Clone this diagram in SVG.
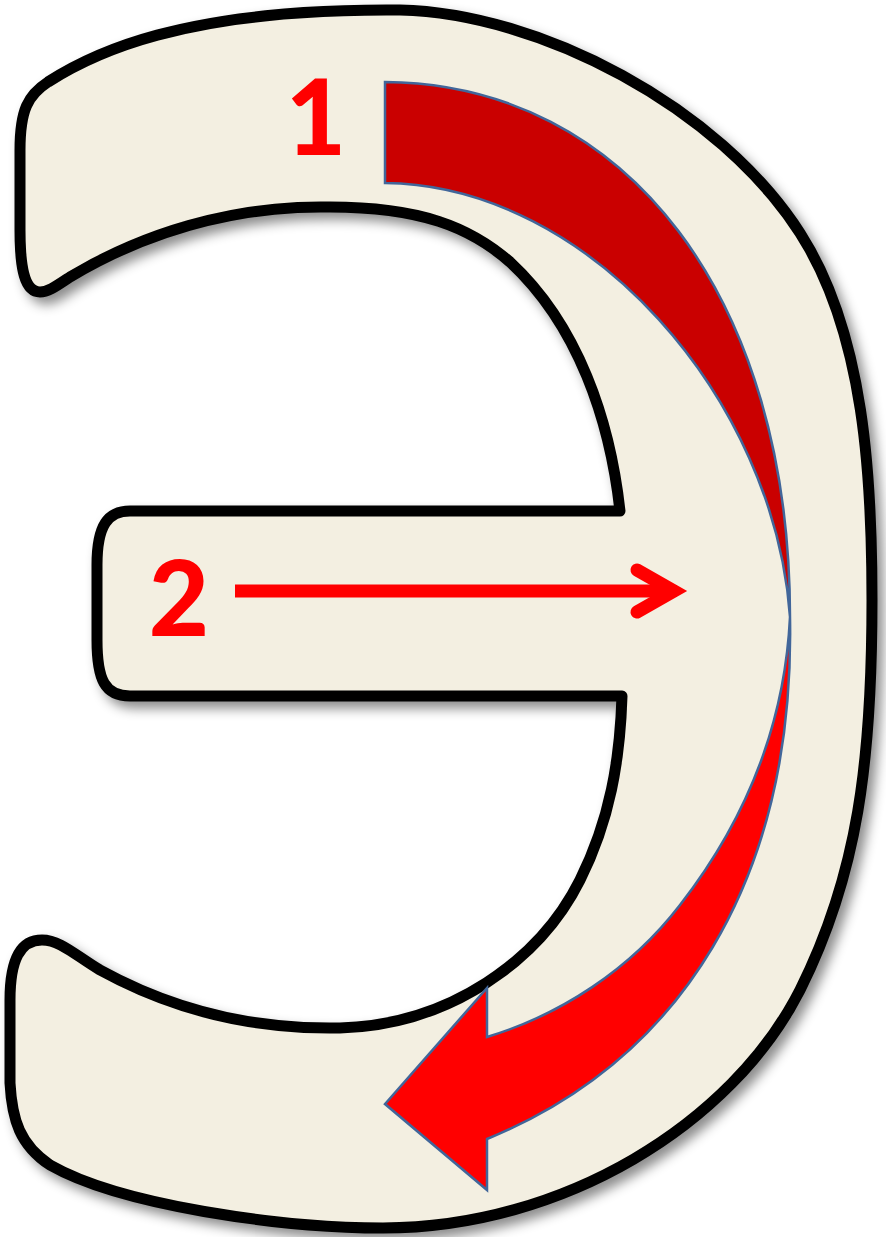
<svg xmlns="http://www.w3.org/2000/svg" width="886" height="1237" viewBox="0 0 886 1237">
<defs>
<filter id="sh" x="-10%" y="-10%" width="130%" height="130%">
<feDropShadow dx="6" dy="7" stdDeviation="6" flood-color="#000" flood-opacity="0.45"/>
</filter>
</defs>
<style>
.letter{fill:#F3EFE1;stroke:#000;stroke-width:11;stroke-linejoin:round}
.arc{stroke:#41669A;stroke-width:2.5;stroke-linejoin:miter}
.num{font-family:Lato,"Open Sans",sans-serif;font-weight:900;font-size:104px;fill:#FF0000;text-anchor:middle}
</style>
<rect width="886" height="1237" fill="#fff"/>
<g id="letter">
<path class="letter" filter="url(#sh)" d="M48,82 C90,55 180,8 400,10 C540,13 719,107 800,233 C865,334 872,480 872,600 C872,760 858,874 800,990 C732,1124 563,1228 383,1228 C280,1228 120,1205 50,1165 C20,1145 12,1120 10,1083 L10,1000 C10,960 20,940 42,940 C60,940 75,955 100,970 C160,1003 240,1030 340,1028 C450,1025 540,960 580,880 C610,820 620,760 622,696 L130,696 C105,696 97,680 97,640 L97,565 C97,525 108,511 130,511 L620,511 C610,420 578,325 510,262 C470,227 420,207 330,207 C230,205 140,235 70,277 C55,287 48,292 40,292 C25,292 20,270 20,230 L20,150 C20,110 28,95 48,82 Z"/>
</g>
<g id="arrow1">
<path class="arc" fill="#CA0000" d="M385,82 C628,84 790,300 790,617 C775,400 590,185 385,183 Z"/>
<text class="num" x="316" y="155">1</text>
</g>
<g id="arrow1b">
<path class="arc" fill="#FF0000" d="M790,617 C795,880 680,1060 487,1139 L487,1190 L385,1104 L487,988 L487,1037 C560,1015 630,970 680,905 C750,815 785,720 790,617 Z"/>
</g>
<g id="arrow2">
<line x1="235" y1="591" x2="672" y2="591" stroke="#FF0000" stroke-width="13"/>
<path d="M637,570 L674,591 L637,612" fill="none" stroke="#FF0000" stroke-width="13" stroke-linecap="round" stroke-linejoin="miter" stroke-miterlimit="10"/>
<text class="num" x="179" y="636">2</text>
</g>
</svg>
